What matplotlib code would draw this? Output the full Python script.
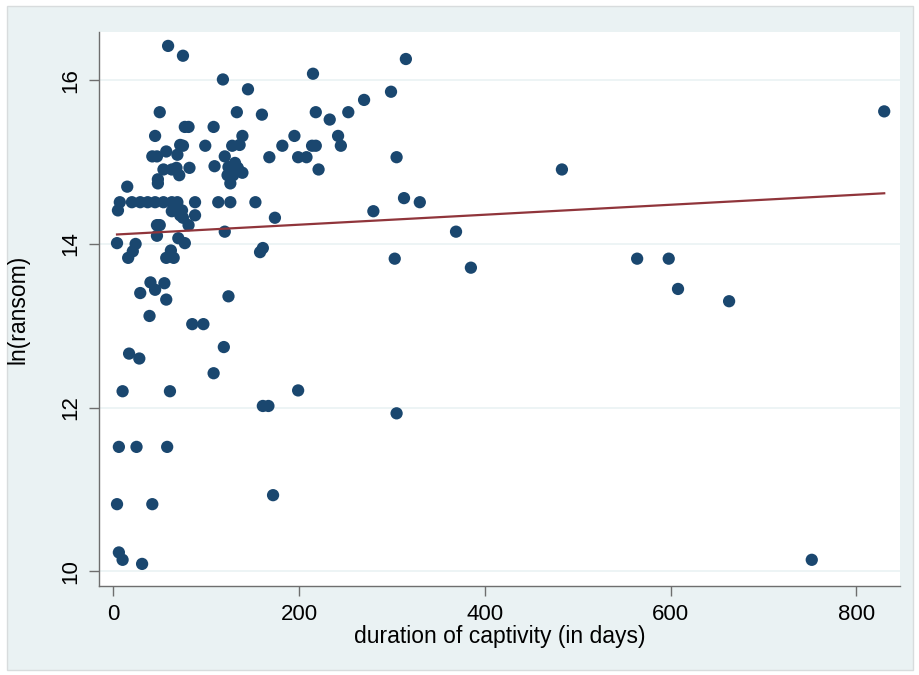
import matplotlib.pyplot as plt
import numpy as np
from matplotlib.patches import Rectangle

# duration of captivity (days) and ln(ransom)
days = [59, 75, 118, 145, 215, 315,
        50, 133, 160, 218, 233, 253, 270, 299, 830,
        77, 81, 108,
        45, 139, 195, 242,
        72, 75, 99, 128, 136, 182, 214, 218, 245,
        42, 47, 57, 69, 120, 168, 199, 208, 305,
        54, 63, 68, 82, 109, 124, 131, 134, 221, 483,
        71, 123, 129, 139,
        48, 15, 48, 126,
        7, 20, 29, 37, 45, 54, 63, 69, 88, 113, 126, 153, 330,
        5, 63, 74, 280, 313,
        72, 75, 88, 174,
        47, 50, 81,
        120, 369,
        47, 70,
        4, 24, 77, 161,
        21, 62, 158,
        16, 57, 65, 303, 564, 598,
        385,
        40, 55, 45, 29, 57, 124, 608, 663,
        39, 85, 97,
        119, 17, 28, 108,
        10, 61, 199,
        161, 167, 305,
        6, 25, 58,
        4, 42, 172,
        6, 10, 31, 752]
ln_ransom = [16.42, 16.30, 16.01, 15.89, 16.08, 16.26,
             15.61, 15.61, 15.58, 15.61, 15.52, 15.61, 15.76, 15.86, 15.62,
             15.43, 15.43, 15.43,
             15.32, 15.32, 15.32, 15.32,
             15.21, 15.20, 15.20, 15.20, 15.21, 15.20, 15.20, 15.20, 15.20,
             15.07, 15.07, 15.13, 15.09, 15.07, 15.06, 15.06, 15.06, 15.06,
             14.91, 14.91, 14.93, 14.93, 14.95, 14.94, 14.99, 14.93, 14.91, 14.91,
             14.84, 14.84, 14.84, 14.87,
             14.79, 14.70, 14.74, 14.74,
             14.51, 14.51, 14.51, 14.51, 14.51, 14.51, 14.51, 14.51, 14.51, 14.51, 14.51, 14.51, 14.51,
             14.41, 14.40, 14.41, 14.40, 14.56,
             14.35, 14.32, 14.35, 14.32,
             14.23, 14.23, 14.23,
             14.15, 14.15,
             14.10, 14.07,
             14.01, 14.00, 14.01, 13.95,
             13.91, 13.92, 13.90,
             13.83, 13.83, 13.83, 13.82, 13.82, 13.82,
             13.71,
             13.53, 13.52, 13.44, 13.40, 13.32, 13.36, 13.45, 13.30,
             13.12, 13.02, 13.02,
             12.74, 12.66, 12.60, 12.42,
             12.20, 12.20, 12.21,
             12.02, 12.02, 11.93,
             11.52, 11.52, 11.52,
             10.82, 10.82, 10.93,
             10.23, 10.14, 10.09, 10.14]

x_ticks = [0, 200, 400, 600, 800]
y_ticks = [10, 12, 14, 16]

navy = "#1a476f"
maroon = "#90353b"
bg = "#eaf2f3"

plt.rcParams["font.family"] = ["Liberation Sans", "DejaVu Sans"]

fig = plt.figure(figsize=(9.19, 6.75), dpi=100)
fig.patch.set_facecolor("white")
fig.patches.append(Rectangle((7 / 919, 5 / 675), 906 / 919, 664 / 675,
                             transform=fig.transFigure, facecolor=bg,
                             edgecolor="#d8dcdd", linewidth=1, zorder=-1))

ax = fig.add_axes([99 / 919, 89 / 675, 801 / 919, 554 / 675])
ax.set_facecolor("white")

x = np.array(days, dtype=float)
y = np.array(ln_ransom)
ax.scatter(x, y, s=78, color=navy, edgecolors="none", zorder=3)

slope, intercept = np.polyfit(x, y, 1)
xs = np.array([x.min(), x.max()])
ax.plot(xs, intercept + slope * xs, color=maroon, linewidth=1.6, zorder=4)

ax.set_xlim(-15.4, 847)
ax.set_ylim(9.82, 16.59)
ax.set_xticks(x_ticks)
ax.set_yticks(y_ticks)
ax.grid(axis="y", color=bg, linewidth=1.2)
ax.set_axisbelow(True)

for side in ["top", "right"]:
    ax.spines[side].set_visible(False)
for side in ["left", "bottom"]:
    ax.spines[side].set_color("#6e6e6e")
    ax.spines[side].set_linewidth(1.0)

ax.tick_params(axis="both", direction="out", length=7, width=1, color="#6e6e6e",
               labelsize=16, labelcolor="black", pad=6)
plt.setp(ax.get_yticklabels(), rotation=90, va="center")

ax.set_xlabel("duration of captivity (in days)", fontsize=16.5, va="center")
ax.set_ylabel("ln(ransom)", fontsize=16.5, va="center")
ax.xaxis.set_label_coords(0.5, -0.092)
ax.yaxis.set_label_coords(-0.101, 0.5)

fig.savefig("out.png", dpi=100)
